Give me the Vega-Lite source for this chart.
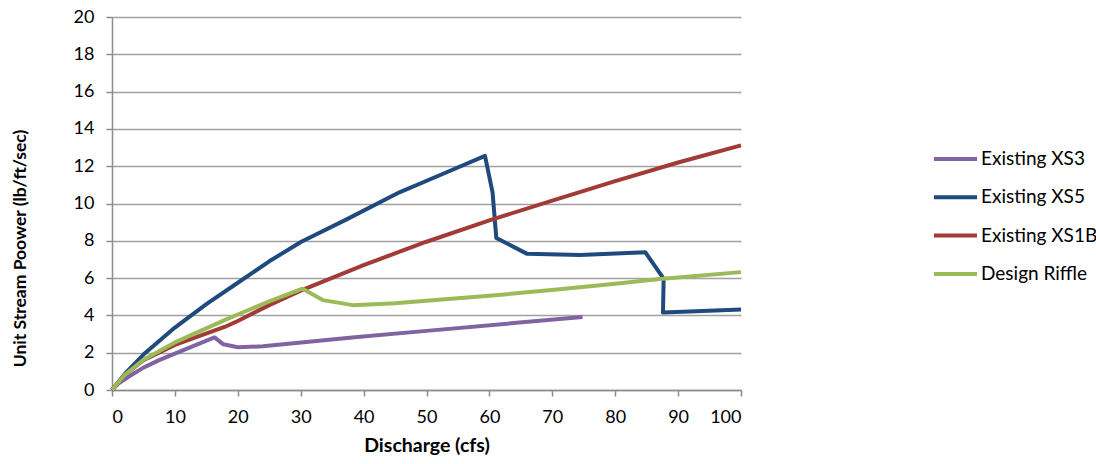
{
  "$schema": "https://vega.github.io/schema/vega-lite/v6.json",
  "autosize": {"type": "none"},
  "width": 629,
  "height": 373,
  "padding": {"left": 112, "top": 17, "right": 355, "bottom": 74},
  "background": "white",
  "config": {
    "font": "Lato",
    "view": {"stroke": null},
    "axis": {
      "domainColor": "#8c8c8c",
      "domainWidth": 1.5,
      "tickColor": "#8c8c8c",
      "tickWidth": 1.5,
      "tickSize": 6,
      "gridColor": "#a0a0a0",
      "gridWidth": 1.3,
      "labelFont": "Lato",
      "labelFontSize": 18,
      "labelColor": "#000000",
      "titleFont": "Lato",
      "titleFontSize": 18,
      "titleFontWeight": "bold",
      "titleColor": "#000000"
    }
  },
  "data": {
    "values": [
      {"series": "Existing XS3", "i": 0, "q": 0, "p": 0},
      {"series": "Existing XS3", "i": 1, "q": 1, "p": 0.34},
      {"series": "Existing XS3", "i": 2, "q": 2.5, "p": 0.68},
      {"series": "Existing XS3", "i": 3, "q": 5, "p": 1.2},
      {"series": "Existing XS3", "i": 4, "q": 7.5, "p": 1.6},
      {"series": "Existing XS3", "i": 5, "q": 10, "p": 1.95},
      {"series": "Existing XS3", "i": 6, "q": 13, "p": 2.37},
      {"series": "Existing XS3", "i": 7, "q": 16.3, "p": 2.82},
      {"series": "Existing XS3", "i": 8, "q": 17.7, "p": 2.45},
      {"series": "Existing XS3", "i": 9, "q": 20, "p": 2.29},
      {"series": "Existing XS3", "i": 10, "q": 24, "p": 2.34},
      {"series": "Existing XS3", "i": 11, "q": 38.6, "p": 2.83},
      {"series": "Existing XS3", "i": 12, "q": 50, "p": 3.17},
      {"series": "Existing XS3", "i": 13, "q": 74.8, "p": 3.92},

      {"series": "Existing XS5", "i": 0, "q": 0, "p": 0},
      {"series": "Existing XS5", "i": 1, "q": 2, "p": 0.85},
      {"series": "Existing XS5", "i": 2, "q": 5, "p": 1.9},
      {"series": "Existing XS5", "i": 3, "q": 10, "p": 3.35},
      {"series": "Existing XS5", "i": 4, "q": 15, "p": 4.6},
      {"series": "Existing XS5", "i": 5, "q": 20, "p": 5.75},
      {"series": "Existing XS5", "i": 6, "q": 25, "p": 6.9},
      {"series": "Existing XS5", "i": 7, "q": 30.1, "p": 7.95},
      {"series": "Existing XS5", "i": 8, "q": 37.3, "p": 9.15},
      {"series": "Existing XS5", "i": 9, "q": 45.7, "p": 10.6},
      {"series": "Existing XS5", "i": 10, "q": 52, "p": 11.5},
      {"series": "Existing XS5", "i": 11, "q": 59.3, "p": 12.55},
      {"series": "Existing XS5", "i": 12, "q": 60.5, "p": 10.6},
      {"series": "Existing XS5", "i": 13, "q": 61.1, "p": 8.15},
      {"series": "Existing XS5", "i": 14, "q": 66, "p": 7.3},
      {"series": "Existing XS5", "i": 15, "q": 74.4, "p": 7.24},
      {"series": "Existing XS5", "i": 16, "q": 84.8, "p": 7.38},
      {"series": "Existing XS5", "i": 17, "q": 87.7, "p": 5.97},
      {"series": "Existing XS5", "i": 18, "q": 87.6, "p": 4.15},
      {"series": "Existing XS5", "i": 19, "q": 100, "p": 4.32},

      {"series": "Existing XS1B", "i": 0, "q": 0, "p": 0},
      {"series": "Existing XS1B", "i": 1, "q": 2, "p": 0.8},
      {"series": "Existing XS1B", "i": 2, "q": 5, "p": 1.6},
      {"series": "Existing XS1B", "i": 3, "q": 10, "p": 2.42},
      {"series": "Existing XS1B", "i": 4, "q": 17.9, "p": 3.38},
      {"series": "Existing XS1B", "i": 5, "q": 20, "p": 3.7},
      {"series": "Existing XS1B", "i": 6, "q": 25, "p": 4.55},
      {"series": "Existing XS1B", "i": 7, "q": 30, "p": 5.33},
      {"series": "Existing XS1B", "i": 8, "q": 40, "p": 6.7},
      {"series": "Existing XS1B", "i": 9, "q": 50, "p": 7.95},
      {"series": "Existing XS1B", "i": 10, "q": 60, "p": 9.1},
      {"series": "Existing XS1B", "i": 11, "q": 70, "p": 10.15},
      {"series": "Existing XS1B", "i": 12, "q": 80, "p": 11.2},
      {"series": "Existing XS1B", "i": 13, "q": 90, "p": 12.2},
      {"series": "Existing XS1B", "i": 14, "q": 100, "p": 13.12},

      {"series": "Design Riffle", "i": 0, "q": 0, "p": 0},
      {"series": "Design Riffle", "i": 1, "q": 2, "p": 0.8},
      {"series": "Design Riffle", "i": 2, "q": 5, "p": 1.62},
      {"series": "Design Riffle", "i": 3, "q": 10, "p": 2.55},
      {"series": "Design Riffle", "i": 4, "q": 17.9, "p": 3.75},
      {"series": "Design Riffle", "i": 5, "q": 20, "p": 4.05},
      {"series": "Design Riffle", "i": 6, "q": 25, "p": 4.75},
      {"series": "Design Riffle", "i": 7, "q": 30.3, "p": 5.43},
      {"series": "Design Riffle", "i": 8, "q": 33.5, "p": 4.82},
      {"series": "Design Riffle", "i": 9, "q": 38.3, "p": 4.55},
      {"series": "Design Riffle", "i": 10, "q": 45, "p": 4.65},
      {"series": "Design Riffle", "i": 11, "q": 60, "p": 5.05},
      {"series": "Design Riffle", "i": 12, "q": 71.2, "p": 5.4},
      {"series": "Design Riffle", "i": 13, "q": 80, "p": 5.7},
      {"series": "Design Riffle", "i": 14, "q": 87.1, "p": 5.95},
      {"series": "Design Riffle", "i": 15, "q": 100, "p": 6.32}
    ]
  },
  "mark": {"type": "line", "strokeWidth": 4, "strokeJoin": "round", "strokeCap": "butt"},
  "encoding": {
    "x": {
      "field": "q",
      "type": "quantitative",
      "scale": {"domain": [0, 100], "nice": false},
      "axis": {
        "values": [0, 10, 20, 30, 40, 50, 60, 70, 80, 90, 100],
        "grid": false,
        "labelPadding": 12,
        "title": "Discharge (cfs)",
        "titleFontSize": 19.5,
        "titleY": 55,
        "titleBaseline": "middle"
      }
    },
    "y": {
      "field": "p",
      "type": "quantitative",
      "scale": {"domain": [0, 20], "nice": false},
      "axis": {
        "values": [0, 2, 4, 6, 8, 10, 12, 14, 16, 18, 20],
        "grid": true,
        "labelPadding": 12,
        "title": "Unit Stream Poower (lb/ft/sec)",
        "titleFontSize": 17.5,
        "titleX": -92,
        "titleY": 231,
        "titleAlign": "center",
        "titleBaseline": "middle",
        "titleAngle": 270
      }
    },
    "color": {
      "field": "series",
      "type": "nominal",
      "scale": {
        "domain": ["Existing XS3", "Existing XS5", "Existing XS1B", "Design Riffle"],
        "range": ["#8064A2", "#1F4A7E", "#A23B36", "#9BBB59"]
      },
      "legend": {
        "title": null,
        "orient": "none",
        "legendX": 820,
        "legendY": 133,
        "symbolType": "stroke",
        "symbolSize": 1849,
        "symbolStrokeWidth": 4,
        "clipHeight": 18,
        "rowPadding": 19.3,
        "labelFont": "Lato",
        "labelFontSize": 19,
        "labelColor": "#000000",
        "labelOffset": 2,
        "padding": 0
      }
    },
    "order": {"field": "i", "type": "quantitative"}
  }
}
